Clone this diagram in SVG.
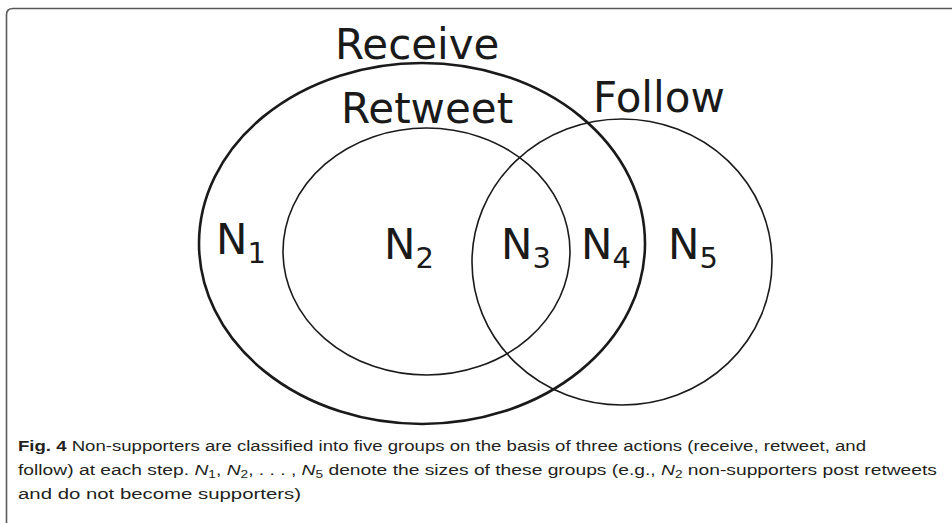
<svg xmlns="http://www.w3.org/2000/svg" width="952" height="523" viewBox="0 0 952 523">
<style>
.frame{fill:none;stroke:#5a5a5a;stroke-width:1.6}
.set{fill:none;stroke:#1a1a1a;stroke-width:1.6}
.outer{stroke-width:2.6}
.lbl{font-family:"DejaVu Sans",Verdana,sans-serif;font-size:42px;fill:#1a1a1a}
.sub{font-size:29px}
.cap{font-family:"Liberation Sans",Arial,sans-serif;font-size:15.5px;fill:#231f20}
.b{font-weight:bold}
.i{font-style:italic}
.cs{font-size:11px}
</style>
<rect width="952" height="523" fill="#fff"/>
<path class="frame" d="M6.5 523 V15 Q6.5 8.5 13 8.5 H952"/>
<g id="receive">
<ellipse class="set outer" cx="422" cy="243.5" rx="223" ry="180.5"/>
<text class="lbl" x="335" y="59">Receive</text>
</g>
<g id="retweet">
<ellipse class="set" cx="426.5" cy="251.5" rx="143.5" ry="123.5"/>
<text class="lbl" x="341" y="123">Retweet</text>
</g>
<g id="follow">
<ellipse class="set" cx="622" cy="262" rx="150" ry="143"/>
<text class="lbl" x="593" y="112">Follow</text>
</g>
<g id="n1"><text class="lbl" x="216" y="254">N<tspan class="sub" dy="9">1</tspan></text></g>
<g id="n2"><text class="lbl" x="384" y="259">N<tspan class="sub" dy="9">2</tspan></text></g>
<g id="n3"><text class="lbl" x="501" y="259">N<tspan class="sub" dy="9">3</tspan></text></g>
<g id="n4"><text class="lbl" x="581" y="259">N<tspan class="sub" dy="9">4</tspan></text></g>
<g id="n5"><text class="lbl" x="668" y="259">N<tspan class="sub" dy="9">5</tspan></text></g>
<g id="caption">
<text class="cap" x="18" y="451" textLength="848" lengthAdjust="spacingAndGlyphs"><tspan class="b">Fig. 4</tspan>  Non-supporters are classified into five groups on the basis of three actions (receive, retweet, and</text>
<text class="cap" x="18" y="475" textLength="919" lengthAdjust="spacingAndGlyphs">follow) at each step. <tspan class="i">N</tspan><tspan class="cs" dy="3">1</tspan><tspan dy="-3">, </tspan><tspan class="i">N</tspan><tspan class="cs" dy="3">2</tspan><tspan dy="-3">, . . . , </tspan><tspan class="i">N</tspan><tspan class="cs" dy="3">5</tspan><tspan dy="-3"> denote the sizes of these groups (e.g., </tspan><tspan class="i">N</tspan><tspan class="cs" dy="3">2</tspan><tspan dy="-3"> non-supporters post retweets</tspan></text>
<text class="cap" x="18" y="499" textLength="283" lengthAdjust="spacingAndGlyphs">and do not become supporters)</text>
</g>
</svg>
